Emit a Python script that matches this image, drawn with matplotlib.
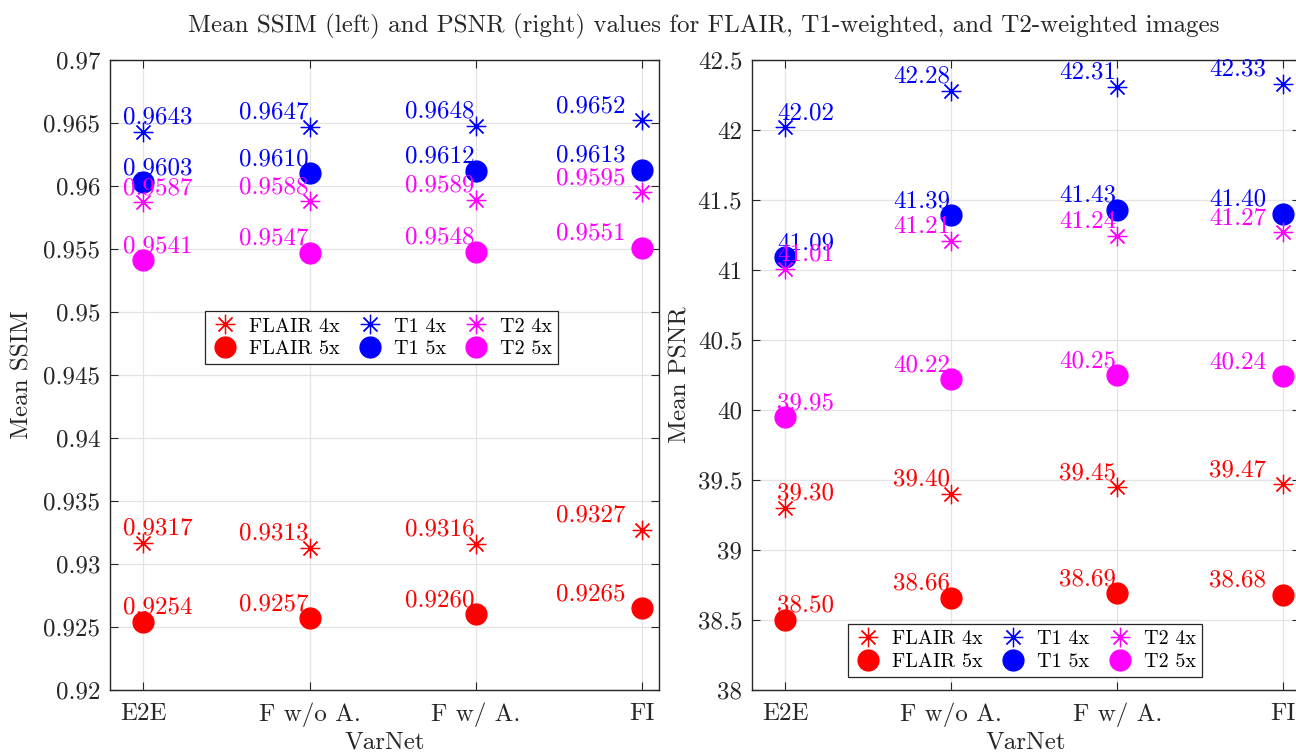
import numpy as np
import matplotlib
matplotlib.use('Agg')
import matplotlib.pyplot as plt
from matplotlib.ticker import FuncFormatter

plt.rcParams['font.family'] = 'serif'
plt.rcParams['font.serif'] = ['cmr10', 'DejaVu Serif']
plt.rcParams['axes.formatter.use_mathtext'] = True
plt.rcParams['axes.unicode_minus'] = False

# methods on the x axis
methods = ['E2E', 'F w/o A.', 'F w/ A.', 'FI']

# mean SSIM
ssim_flair_4x = [0.9317, 0.9313, 0.9316, 0.9327]
ssim_flair_5x = [0.9254, 0.9257, 0.9260, 0.9265]
ssim_t1_4x = [0.9643, 0.9647, 0.9648, 0.9652]
ssim_t1_5x = [0.9603, 0.9610, 0.9612, 0.9613]
ssim_t2_4x = [0.9587, 0.9588, 0.9589, 0.9595]
ssim_t2_5x = [0.9541, 0.9547, 0.9548, 0.9551]

# mean PSNR
psnr_flair_4x = [39.30, 39.40, 39.45, 39.47]
psnr_flair_5x = [38.50, 38.66, 38.69, 38.68]
psnr_t1_4x = [42.02, 42.28, 42.31, 42.33]
psnr_t1_5x = [41.09, 41.39, 41.43, 41.40]
psnr_t2_4x = [41.01, 41.21, 41.24, 41.27]
psnr_t2_5x = [39.95, 40.22, 40.25, 40.24]

series_names = ['FLAIR 4x', 'FLAIR 5x', 'T1 4x', 'T1 5x', 'T2 4x', 'T2 5x']
series_colors = ['#ff0000', '#ff0000', '#0000ff', '#0000ff', '#ff00ff', '#ff00ff']
series_markers = [(8, 2, 0), 'o', (8, 2, 0), 'o', (8, 2, 0), 'o']

ssim_series = [ssim_flair_4x, ssim_flair_5x, ssim_t1_4x, ssim_t1_5x, ssim_t2_4x, ssim_t2_5x]
psnr_series = [psnr_flair_4x, psnr_flair_5x, psnr_t1_4x, psnr_t1_5x, psnr_t2_4x, psnr_t2_5x]

dark = '#262626'
W, H = 1296, 754
fig = plt.figure(figsize=(W / 100, H / 100), dpi=100)

ax1 = fig.add_axes([110 / W, 64 / H, 549 / W, 630 / H])
ax2 = fig.add_axes([752 / W, 64 / H, 548 / W, 630 / H])

x = np.arange(1, len(methods) + 1)


def draw_panel(ax, data, fmt, e2e_dx, ylim, yticks, legend_xy):
    handles = []
    for vals, name, col, mk in zip(data, series_names, series_colors, series_markers):
        if mk == 'o':
            h, = ax.plot(x, vals, linestyle='none', marker='o', markersize=15,
                         color=col, markeredgecolor=col, label=name, zorder=3)
        else:
            h, = ax.plot(x, vals, linestyle='none', marker=mk, markersize=14,
                         color=col, markeredgewidth=0.9, label=name, zorder=3)
        handles.append(h)
        for i, v in enumerate(vals):
            if i == 0:
                dx, ha = e2e_dx, 'left'
            elif i == len(vals) - 1:
                dx, ha = -17, 'right'
            else:
                dx, ha = -1, 'right'
            ax.annotate(fmt % v, (x[i], v), xytext=(dx, 8), textcoords='offset pixels',
                        ha=ha, va='baseline', color=col, fontsize=18, zorder=4)

    ax.set_xlim(0.8, 4.1)
    ax.set_ylim(*ylim)
    ax.set_xticks(x)
    ax.set_xticklabels(methods)
    ax.set_yticks(yticks)
    ax.yaxis.set_major_formatter(FuncFormatter(lambda v, p: '%g' % v))
    ax.tick_params(direction='in', length=6, width=0.8, top=True, right=True,
                   colors=dark, labelsize=18)
    ax.tick_params(axis='x', pad=9)
    ax.tick_params(axis='y', pad=7)
    ax.grid(True, color='#e3e3e3', linewidth=0.9)
    ax.set_axisbelow(True)
    for s in ax.spines.values():
        s.set_color(dark)
        s.set_linewidth(1.0)

    leg = ax.legend(handles=handles, ncol=3, loc='center', bbox_to_anchor=legend_xy,
                    fontsize=14.5, frameon=True, fancybox=False, framealpha=1,
                    edgecolor=dark, handlelength=1.4, handletextpad=0.5,
                    columnspacing=0.8, borderpad=0.3, labelspacing=0.2, markerscale=1.0)
    leg.get_frame().set_linewidth(0.9)
    for t in leg.get_texts():
        t.set_color('#000000')


draw_panel(ax1, ssim_series, '%.4f', -20, (0.92, 0.97),
           np.round(np.arange(0.92, 0.9701, 0.005), 3), (0.4945, 0.5595))
draw_panel(ax2, psnr_series, '%.2f', -8, (38, 42.5),
           np.round(np.arange(38, 42.51, 0.5), 1), (0.498, 0.0627))

fig.text(22 / W, 1 - 375 / H, 'Mean SSIM', rotation=90, ha='center', va='center',
         fontsize=18, color=dark)
fig.text(680 / W, 1 - 375 / H, 'Mean PSNR', rotation=90, ha='center', va='center',
         fontsize=18, color=dark)
fig.text(384.5 / W, 1 - 742 / H, 'VarNet', ha='center', va='center', fontsize=18, color=dark)
fig.text(1026 / W, 1 - 742 / H, 'VarNet', ha='center', va='center', fontsize=18, color=dark)

fig.text(704 / W, 1 - 32 / H,
         'Mean SSIM (left) and PSNR (right) values for FLAIR, T1-weighted, and T2-weighted images',
         ha='center', va='baseline', fontsize=18, color=dark)

fig.savefig('out.png', dpi=100)
